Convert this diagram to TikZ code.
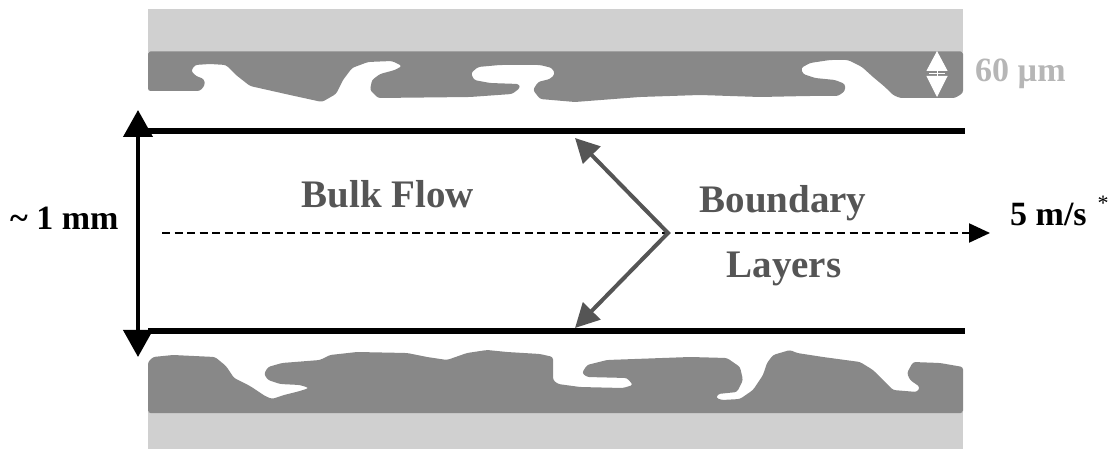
\documentclass[tikz,border=0pt]{standalone}
\usepackage{fontspec}
\setmainfont{Liberation Serif}
\usetikzlibrary{arrows.meta}
\definecolor{wallgray}{RGB}{208,208,208}
\definecolor{depositgray}{RGB}{136,136,136}
\definecolor{labelgray}{RGB}{85,85,85}
\definecolor{notegray}{RGB}{182,182,182}
\tikzset{
  bigtip/.tip={Triangle[width=29pt,length=27pt]},
  graytip/.tip={Triangle[width=24pt,length=24pt]}
}

\begin{document}
\begin{tikzpicture}[x=1pt,y=-1pt,
  wall/.style={fill=wallgray,draw=none},
  deposit/.style={fill=depositgray,draw=none,rounded corners=2.5pt},
  channelline/.style={line width=5.5pt,black},
  darklabel/.style={font=\fontsize{34}{40}\selectfont\bfseries,text=black,inner sep=0pt,anchor=base west},
  graylabel/.style={font=\fontsize{39}{45}\selectfont\bfseries,text=labelgray,inner sep=0pt,anchor=base},
  notelabel/.style={font=\fontsize{34}{40}\selectfont\bfseries,text=notegray,inner sep=0pt,anchor=base west}
]
\useasboundingbox (0,0) rectangle (1112,449);

% pipe walls (light) and fouling deposits (dark)
\fill[wall] (148,9) rectangle (963,52.5);
\fill[wall] (148,412) rectangle (963,449);

\fill[deposit] (148,51.5) -- (148,91) -- (200,91) -- (205,85) -- (204,79) -- (196,76)
  -- (191,71) -- (195,65) -- (210,64) -- (226,65) -- (236,75) -- (250,86) -- (290,95)
  -- (322,102) -- (336,94) -- (343,80) -- (352,68) -- (368,62) -- (392,61) -- (402,66)
  -- (395,70) -- (380,74) -- (372,80) -- (370,90) -- (378,98) -- (470,97) -- (512,94)
  -- (520,88) -- (519,84) -- (490,83) -- (474,80) -- (471,73) -- (478,67) -- (500,65)
  -- (540,65) -- (552,68) -- (555,74) -- (550,79) -- (538,82) -- (533,90) -- (540,99)
  -- (575,102) -- (640,97) -- (700,95) -- (760,97) -- (808,96) -- (838,96) -- (845,91)
  -- (845,84) -- (835,80) -- (815,78) -- (803,74) -- (801,68) -- (810,63) -- (830,60)
  -- (848,60) -- (862,67) -- (873,77) -- (885,87) -- (893,95) -- (900,98) -- (955,98)
  -- (963,93) -- (963,51.5) -- cycle;

\fill[deposit] (148,413) -- (148,362) -- (153,357) -- (173,355) -- (215,357) -- (226,366)
  -- (234,378) -- (250,386) -- (265,396) -- (272,399) -- (284,395) -- (300,391) -- (309,388)
  -- (300,385) -- (280,384) -- (268,380) -- (264,374) -- (268,367) -- (282,363) -- (320,360)
  -- (330,355) -- (357,352) -- (407,353) -- (427,357) -- (447,360) -- (467,353) -- (487,350)
  -- (507,352) -- (540,354) -- (553,357) -- (553,380) -- (558,384) -- (580,387) -- (623,388)
  -- (633,385) -- (627,378) -- (587,377) -- (582,373) -- (587,365) -- (607,360) -- (690,357)
  -- (727,358) -- (740,367) -- (743,380) -- (737,392) -- (718,394) -- (716,398) -- (722,400)
  -- (740,399) -- (753,390) -- (763,375) -- (767,363) -- (773,355) -- (790,350) -- (797,353)
  -- (823,357) -- (860,362) -- (873,370) -- (883,380) -- (893,390) -- (917,392) -- (920,387)
  -- (910,380) -- (907,373) -- (913,362) -- (940,363) -- (963,367) -- (963,413) -- cycle;

% deposit thickness marker
\coordinate (mt) at (937,51);
\coordinate (mb) at (937,97);
\draw[white,line width=1pt,{Triangle[width=21pt,length=20pt]}-{Triangle[width=21pt,length=21pt]}] (mt) -- (mb);
\draw[white,line width=1.2pt] (929,73.5) -- (945,73.5);
\node[notelabel] (thick) at (975,82) {60 µm};

% channel boundaries
\coordinate (tla) at (148,131);
\coordinate (tlb) at (965,131);
\coordinate (bla) at (148,331);
\coordinate (blb) at (965,331);
\draw[channelline] (tla) -- (tlb);
\draw[channelline] (bla) -- (blb);

% channel height
\coordinate (vt) at (138,110);
\coordinate (vb) at (138,357);
\draw[line width=4pt,bigtip-bigtip] (vt) -- (vb);
\node[darklabel] (height) at (10,230) {\textasciitilde\ 1 mm};

% centreline flow
\coordinate (ds) at (162,233);
\coordinate (de) at (990,233);
\draw[line width=2.2pt,dash pattern=on 8pt off 4.5pt,-{Triangle[width=19pt,length=21pt]}] (ds) -- (de);
\node[darklabel] (speed) at (1010,226) {5 m/s\hspace{11pt}\raisebox{15pt}{\fontsize{22}{26}\selectfont\mdseries *}};

% boundary layer arrows
\coordinate (gt) at (575,138);
\coordinate (gv) at (668,233);
\coordinate (gb) at (575,328);
\draw[labelgray,line width=4pt,graytip-graytip] (gt) -- (gv) -- (gb);

\node[graylabel] (bulk) at (388,208) {Bulk Flow};
\node[graylabel] (bound) at (783,213) {Boundary};
\node[graylabel] (layers) at (784,278) {Layers};
\end{tikzpicture}
\end{document}
